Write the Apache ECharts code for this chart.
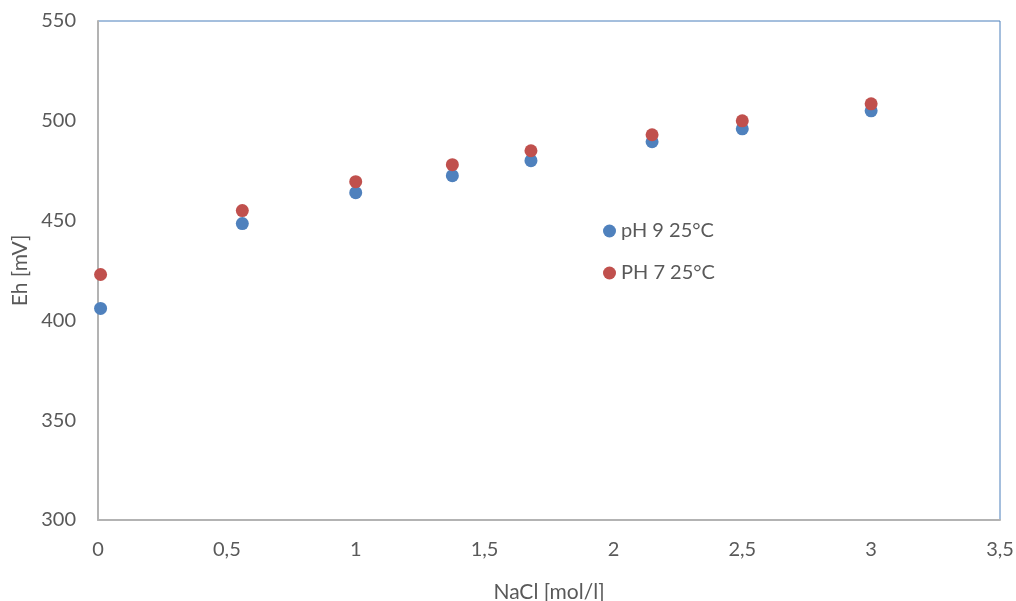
<!DOCTYPE html>
<html>
<head>
<meta charset="utf-8">
<script src="https://cdn.jsdelivr.net/npm/echarts@6/dist/echarts.min.js"></script>
<style>html,body{margin:0;padding:0;background:#fff}#c{width:1016px;height:601px}</style>
</head>
<body>
<div id="c"></div>
<script>
const nacl = [0.01, 0.56, 1.0, 1.375, 1.68, 2.15, 2.5, 3.0];
const ph9 = [406, 448.5, 464, 472.5, 480, 489.5, 496, 505];
const ph7 = [423, 455, 469.5, 478, 485, 493, 500, 508.5];
const seriesNames = ['pH 9 25°C', 'PH 7 25°C'];
const font = 'Lato, "Open Sans", sans-serif';
const txt = '#595959';
const chart = echarts.init(document.getElementById('c'));
chart.setOption({
  animation: false,
  backgroundColor: '#fff',
  grid: {left: 98, right: 16, top: 21, bottom: 81, containLabel: false, outerBoundsMode: 'none',
    show: true, borderColor: '#4a7ebb', borderWidth: 1, backgroundColor: 'transparent'},
  legend: {
    orient: 'vertical', left: 598, top: 216, itemGap: 22,
    icon: 'circle', itemWidth: 13, itemHeight: 13,
    textStyle: {fontFamily: font, fontSize: 20, color: txt},
    data: seriesNames
  },
  xAxis: {
    type: 'value', min: 0, max: 3.5, interval: 0.5,
    name: 'NaCl [mol/l]', nameLocation: 'middle', nameGap: 62,
    nameTextStyle: {fontFamily: font, fontSize: 21, color: txt},
    axisLine: {show: true, lineStyle: {color: '#b3b3b3', width: 2}},
    axisTick: {show: false},
    splitLine: {show: false},
    axisLabel: {fontFamily: font, fontSize: 20, color: txt, margin: 20,
      formatter: v => String(v).replace('.', ',')}
  },
  yAxis: {
    type: 'value', min: 300, max: 550, interval: 50,
    name: 'Eh [mV]', nameLocation: 'middle', nameGap: 65, nameRotate: 90,
    nameTextStyle: {fontFamily: font, fontSize: 21, color: txt},
    axisLine: {show: true, lineStyle: {color: '#b3b3b3', width: 2}},
    axisTick: {show: false},
    splitLine: {show: false},
    axisLabel: {fontFamily: font, fontSize: 20, color: txt, margin: 22}
  },
  series: [
    {name: seriesNames[0], type: 'scatter', symbolSize: 13, itemStyle: {color: '#4f81bd', opacity: 1},
     data: nacl.map((x, i) => [x, ph9[i]])},
    {name: seriesNames[1], type: 'scatter', symbolSize: 13, itemStyle: {color: '#c0504d', opacity: 1},
     data: nacl.map((x, i) => [x, ph7[i]])}
  ]
});
</script>
</body>
</html>
